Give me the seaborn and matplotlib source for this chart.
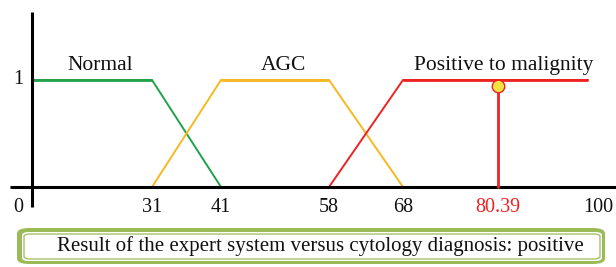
import numpy as np
import pandas as pd
import matplotlib
matplotlib.use("Agg")
import matplotlib.pyplot as plt
from matplotlib.patches import FancyBboxPatch
import seaborn as sns

# membership functions (trapezoids)
classes = ["Normal", "AGC", "Positive to malignity"]
normal_x = [0, 31, 41]
normal_y = [1, 1, 0]
agc_x = [31, 41, 58, 68]
agc_y = [0, 1, 1, 0]
pos_x = [58, 68, 100]
pos_y = [0, 1, 1]

tick_vals = [0, 31, 41, 58, 68, 80.39, 100]
tick_labels = ["0", "31", "41", "58", "68", "80.39", "100"]
result_x = 80.39
result_y = 1
caption = "Result of the expert system versus cytology diagnosis: positive"

colors = {"Normal": "#21a24a", "AGC": "#f6b921", "Positive to malignity": "#ee2222"}
red = "#ee2222"

df = pd.concat([
    pd.DataFrame({"x": normal_x, "y": normal_y, "cls": "Normal"}),
    pd.DataFrame({"x": agc_x, "y": agc_y, "cls": "AGC"}),
    pd.DataFrame({"x": pos_x, "y": pos_y, "cls": "Positive to malignity"}),
])

sns.set_style("white")
plt.rcParams["font.family"] = ["Liberation Serif", "DejaVu Serif"]

fig = plt.figure(figsize=(6.16, 2.67), dpi=100)
ax = fig.add_axes([0, 0, 1, 1])

# schematic (non-uniform) horizontal axis, as in the original figure
kd = [-20, 0, 31, 41, 58, 68, 80.39, 100, 120]
kp = [-45.4, 32, 152, 221, 329, 403, 498, 588, 684]
ax.set_xscale("function", functions=(lambda v: np.interp(v, kd, kp),
                                     lambda p: np.interp(p, kp, kd)))
ax.set_xlim(np.interp(0, kp, kd), np.interp(616, kp, kd))
ax.set_ylim(-80 / 107, 1 + 80 / 107)

sns.lineplot(data=df, x="x", y="y", hue="cls", palette=colors, sort=False,
             estimator=None, lw=1.4, legend=False, ax=ax)

# plateaus a little heavier
for xs, ys, c in [(normal_x, normal_y, "Normal"), (agc_x, agc_y, "AGC"),
                  (pos_x, pos_y, "Positive to malignity")]:
    xs, ys = np.array(xs), np.array(ys)
    m = ys == 1
    ax.plot(xs[m], ys[m], color=colors[c], lw=2.0, solid_capstyle="butt")

# axes lines
ax.plot([0, 0], [-0.19, 1.64], color="black", lw=2.2, solid_capstyle="butt")
ax.plot([np.interp(10, kp, kd), 110], [0, 0], color="black", lw=2.2,
        solid_capstyle="butt")

# result marker
ax.plot([result_x, result_x], [0, result_y], color=red, lw=2.0, zorder=4)
ax.plot(result_x, result_y - 0.06, "o", ms=9, mfc="#f2e340", mec=red, mew=1.0,
        zorder=5)

# class labels over plateaus
for c, xs, ys in [("Normal", normal_x, normal_y), ("AGC", agc_x, agc_y),
                  ("Positive to malignity", pos_x, pos_y)]:
    px = [x for x, y in zip(xs, ys) if y == 1]
    mid_px = (np.interp(px[0], kd, kp) + np.interp(px[-1], kd, kp)) / 2 + 8
    ax.text(np.interp(mid_px, kp, kd), 1.14, c, ha="center", va="center",
            fontsize=15.5, color="#111111")

# tick labels
for v, lab in zip(tick_vals, tick_labels):
    xx = v if v != 0 else np.interp(18, kp, kd)
    if v == 100:
        xx = np.interp(598, kp, kd)
    ax.text(xx, -0.19, lab, ha="center", va="center", fontsize=14.5,
            color=red if v == result_x else "#111111")
ax.text(np.interp(18, kp, kd), 1.0, "1", ha="center", va="center", fontsize=14.5,
        color="#111111")

ax.set_axis_off()

# caption box
W, H = 616, 267
outer = FancyBboxPatch((17 / W, 3 / H), 588 / W, 36 / H,
                       boxstyle="round,pad=0,rounding_size=0.02",
                       transform=fig.transFigure, fc="#9bbb59", ec="none")
inner = FancyBboxPatch((22 / W, 6 / H), 580 / W, 29 / H,
                       boxstyle="round,pad=0,rounding_size=0.012",
                       transform=fig.transFigure, fc="white", ec="none")
line = FancyBboxPatch((24 / W, 8 / H), 576 / W, 25 / H,
                      boxstyle="round,pad=0,rounding_size=0.01",
                      transform=fig.transFigure, fc="white", ec="#9bbb59", lw=0.9)
for p in (outer, inner, line):
    fig.patches.append(p)
fig.text(320 / W, 20.5 / H, caption, ha="center", va="center", fontsize=15,
         color="#111111")

fig.savefig("out.png", dpi=100)
